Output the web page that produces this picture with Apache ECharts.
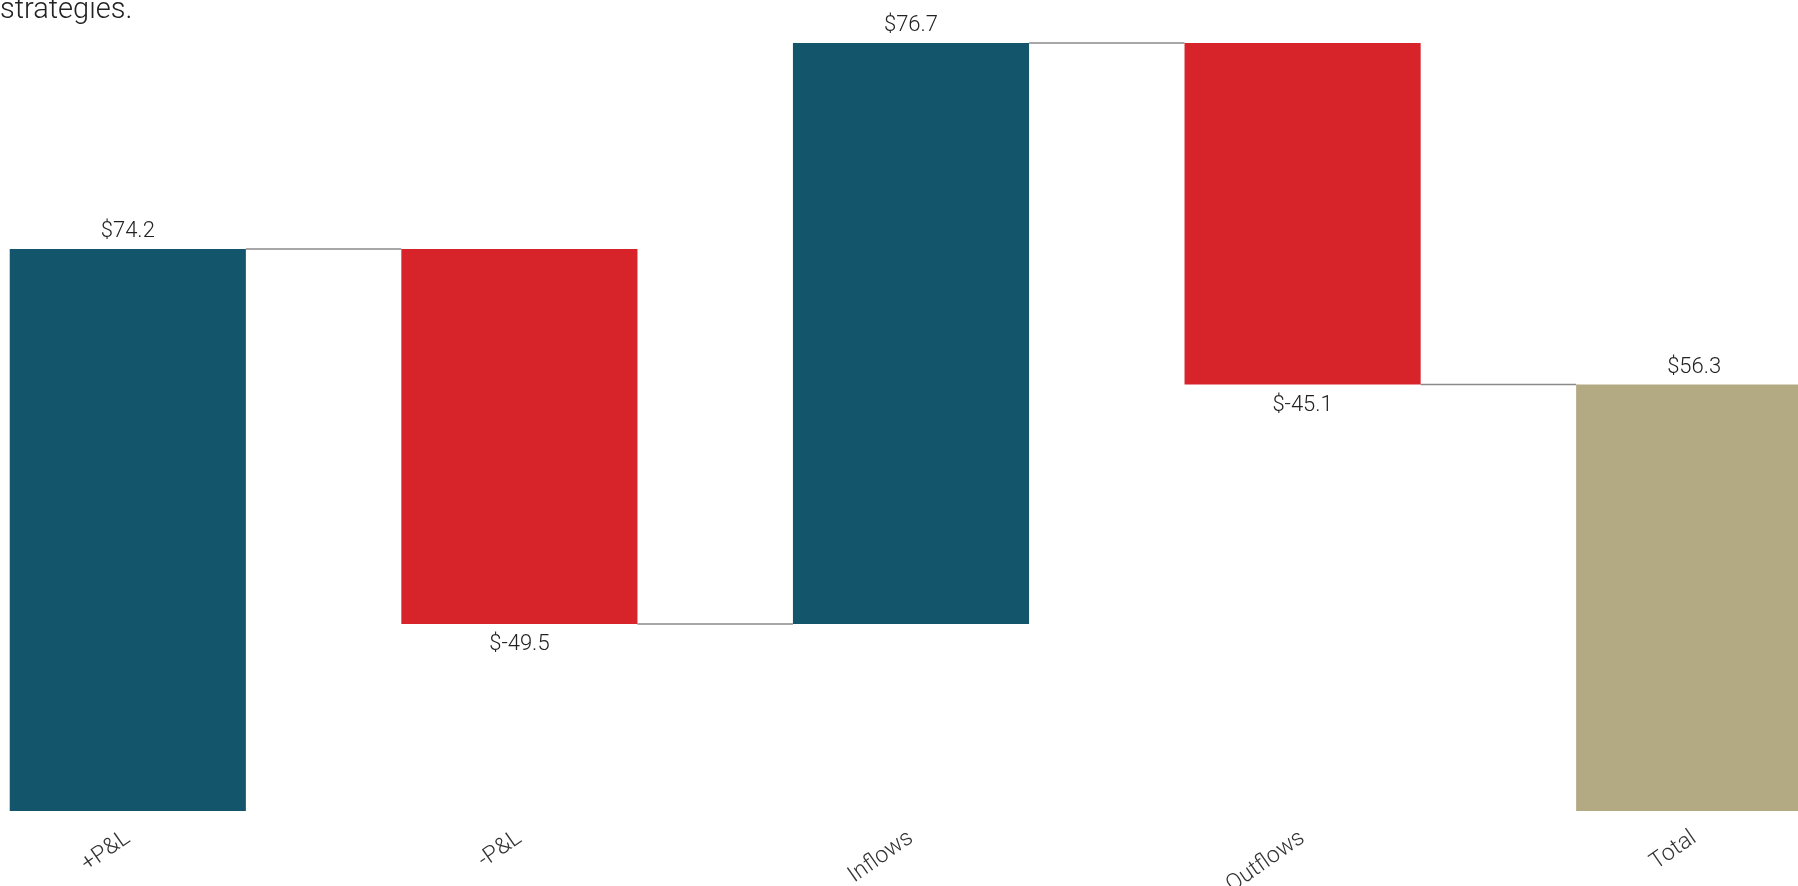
<!DOCTYPE html>
<html>
<head>
<meta charset="utf-8">
<script src="https://cdn.jsdelivr.net/npm/echarts@6/dist/echarts.min.js"></script>
<style>
  html, body { margin: 0; padding: 0; background: #ffffff; overflow: hidden; width: 1798px; height: 886px; }
  /* plot area is wider than the page so the outer bars run off both edges */
  #chart { position: absolute; left: -68px; top: 0; width: 1958px; height: 886px; }
</style>
</head>
<body>
<div id="chart"></div>
<script>
// Waterfall steps: P&L, flows and the resulting total
const categories = ['+P&L', '-P&L', 'Inflows', 'Outflows', 'Total'];
const changes = [74.2, -49.5, 76.7, -45.1, 56.3];
const isTotal = [false, false, false, false, true];
const subtitleTail = 'strategies.';

const COLOR_UP = '#13566b';
const COLOR_DOWN = '#d7232a';
const COLOR_TOTAL = '#b3a982';
const FONT = "'Roboto', 'Noto Sans', sans-serif";
const GAP = 0.397;

// Running levels: invisible base + visible height for each step
const base = [];
const height = [];
const levels = [];
let running = 0;
changes.forEach(function (v, i) {
  if (isTotal[i]) {
    base.push(0);
    height.push(v);
    running = v;
  } else {
    const next = running + v;
    base.push(Math.min(running, next));
    height.push(Math.abs(v));
    running = next;
  }
  levels.push(running);
});

// Connector segments from each bar's end level to the next bar
const connectors = [];
for (let i = 0; i < categories.length - 1; i++) {
  connectors.push([i, levels[i]]);
}

const chart = echarts.init(document.getElementById('chart'), null, { renderer: 'canvas' });

chart.setOption({
  animation: false,
  backgroundColor: '#ffffff',
  title: {
    text: subtitleTail,
    left: 68,
    top: -4,
    padding: 0,
    textStyle: { fontFamily: FONT, fontWeight: 300, fontSize: 29, color: '#222222' }
  },
  grid: { left: 0, right: 0, top: 0, bottom: 75, containLabel: false, outerBoundsMode: 'none' },
  xAxis: {
    type: 'category',
    data: categories,
    axisLine: { show: false },
    axisTick: { show: false },
    axisLabel: {
      rotate: 35,
      margin: 25,
      fontFamily: FONT,
      fontWeight: 300,
      fontSize: 23,
      color: '#333333'
    }
  },
  yAxis: {
    type: 'value',
    min: 0,
    max: 107.07,
    show: false,
    splitLine: { show: false }
  },
  series: [
    {
      name: 'base',
      type: 'bar',
      stack: 'wf',
      barCategoryGap: (GAP * 100) + '%',
      itemStyle: { color: 'transparent' },
      silent: true,
      data: base
    },
    {
      name: 'step',
      type: 'bar',
      stack: 'wf',
      barCategoryGap: (GAP * 100) + '%',
      data: height.map(function (h, i) {
        const neg = changes[i] < 0;
        return {
          value: h,
          itemStyle: { color: isTotal[i] ? COLOR_TOTAL : (neg ? COLOR_DOWN : COLOR_UP) },
          label: {
            show: true,
            position: neg ? 'bottom' : 'top',
            distance: neg ? 10 : 6,
            formatter: '$' + changes[i].toFixed(1),
            fontFamily: FONT,
            fontWeight: 300,
            fontSize: 22,
            color: '#222222'
          }
        };
      })
    },
    {
      name: 'connector',
      type: 'custom',
      silent: true,
      z: 1,
      renderItem: function (params, api) {
        const idx = api.value(0);
        const lvl = api.value(1);
        const band = api.size([1, 0])[0];
        const half = band * (1 - GAP) / 2;
        const p0 = api.coord([idx, lvl]);
        const p1 = api.coord([idx + 1, lvl]);
        return {
          type: 'line',
          shape: { x1: p0[0] + half, y1: p0[1], x2: p1[0] - half, y2: p1[1] },
          style: { stroke: '#8a8a8a', lineWidth: 1.5 }
        };
      },
      data: connectors
    }
  ]
});
</script>
</body>
</html>
